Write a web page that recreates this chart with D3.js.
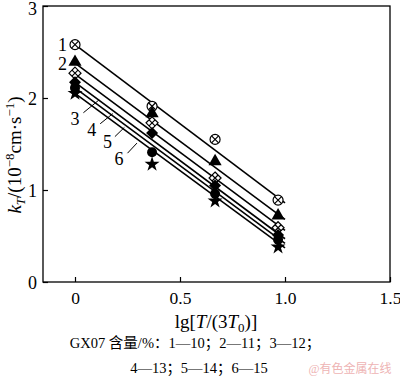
<!DOCTYPE html>
<html>
<head>
<meta charset="utf-8">
<script src="https://cdn.jsdelivr.net/npm/d3@7"></script>
<style>
  body { margin: 0; background: #fff; }
  svg text { font-family: "Liberation Serif", "Noto Sans CJK SC", serif; fill: #000; }
</style>
</head>
<body>
<div id="chart"></div>
<script>
const xValues = [0, 0.367, 0.667, 0.967];
const seriesNames = ["1", "2", "3", "4", "5", "6"];
const seriesValues = [
  [2.58, 1.91, 1.55, 0.89],
  [2.38, 1.82, 1.30, 0.71],
  [2.27, 1.73, 1.13, 0.59],
  [2.17, 1.62, 1.05, 0.51],
  [2.11, 1.41, 0.96, 0.46],
  [2.05, 1.28, 0.88, 0.38]
];
const fitStart = [2.58, 2.38, 2.26, 2.17, 2.11, 2.05];
const fitEnd = [0.86, 0.68, 0.56, 0.47, 0.42, 0.37];
const markerTypes = ["circlex", "triangle", "diamondx", "diamond", "circle", "star"];
const xTicks = [0, 0.5, 1.0, 1.5];
const xTickLabels = ["0", "0.5", "1.0", "1.5"];
const yTicks = [0, 1, 2, 3];
const yTickLabels = ["0", "1", "2", "3"];
// label anchor [x, y] in data units, leader from label toward the fitted lines
const labelPos = [[-0.06, 2.58], [-0.06, 2.37], [0, 1.78], [0.08, 1.66], [0.155, 1.52], [0.21, 1.34]];
const leaderFrom = [null, null, [0.04, 1.84], [0.12, 1.72], [0.19, 1.58], [0.25, 1.40]];
const leaderTo = [null, null, [0.115, 1.98], [0.18, 1.83], [0.235, 1.68], [0.295, 1.51]];
const captionLines = ["GX07 含量/%：1—10；2—11；3—12；", "4—13；5—14；6—15"];

const W = 400, H = 378;
const svg = d3.select("#chart").append("svg").attr("width", W).attr("height", H);

const x = d3.scaleLinear().domain([0, 1.5]).range([75, 390]);
const y = d3.scaleLinear().domain([0, 3]).range([282, 6]);
const x0 = x.invert(43);

// frame
svg.append("rect")
  .attr("x", x(x0)).attr("y", y(3))
  .attr("width", x(1.5) - x(x0)).attr("height", y(0) - y(3))
  .attr("fill", "none").attr("stroke", "#000").attr("stroke-width", 1.3);

const xAxis = svg.append("g")
  .attr("transform", `translate(0,${y(0)})`)
  .call(d3.axisBottom(x).tickValues(xTicks).tickSize(-5).tickPadding(9)
    .tickFormat((d, i) => xTickLabels[i]));
xAxis.select(".domain").remove();
xAxis.selectAll("line").attr("stroke-width", 1.2);
xAxis.selectAll("text").attr("font-size", 17.5).attr("dy", "0.72em");

const yAxis = svg.append("g")
  .attr("transform", `translate(${x(x0)},0)`)
  .call(d3.axisLeft(y).tickValues(yTicks).tickSize(-5).tickPadding(6)
    .tickFormat((d, i) => yTickLabels[i]));
yAxis.select(".domain").remove();
yAxis.selectAll("line").attr("stroke-width", 1.2);
yAxis.selectAll("text").attr("font-size", 18)
  .attr("dy", (d) => d === 3 ? "0.45em" : "0.38em");

// fitted lines
const lines = svg.append("g");
seriesNames.forEach((s, i) => {
  lines.append("line")
    .attr("x1", x(0)).attr("y1", y(fitStart[i]))
    .attr("x2", x(1.0)).attr("y2", y(fitEnd[i]))
    .attr("stroke", "#000").attr("stroke-width", 1.6);
});

// markers
const star = d3.symbol().type(d3.symbolStar).size(70);
const tri = d3.symbol().type(d3.symbolTriangle).size(75);
function drawMarker(g, type, cx, cy) {
  const m = g.append("g").attr("transform", `translate(${cx},${cy})`);
  if (type === "circlex") {
    m.append("circle").attr("r", 5).attr("fill", "#fff").attr("stroke", "#000").attr("stroke-width", 1.2);
    m.append("path").attr("d", "M-3.5,-3.5L3.5,3.5M-3.5,3.5L3.5,-3.5").attr("stroke", "#000").attr("stroke-width", 1.2);
  } else if (type === "triangle") {
    m.append("path").attr("d", tri()).attr("fill", "#000").attr("transform", "translate(0,-1)");
  } else if (type === "diamondx") {
    m.append("path").attr("d", "M0,-6L6,0L0,6L-6,0Z").attr("fill", "#fff").attr("stroke", "#000").attr("stroke-width", 1.2);
    m.append("path").attr("d", "M-3,-3L3,3M-3,3L3,-3").attr("stroke", "#000").attr("stroke-width", 1.2);
  } else if (type === "diamond") {
    m.append("path").attr("d", "M0,-6L6,0L0,6L-6,0Z").attr("fill", "#000");
  } else if (type === "circle") {
    m.append("circle").attr("r", 5).attr("fill", "#000");
  } else {
    m.append("path").attr("d", star()).attr("fill", "#000");
  }
}
const marks = svg.append("g");
seriesValues.forEach((vals, i) => {
  vals.forEach((v, j) => drawMarker(marks, markerTypes[i], x(xValues[j]), y(v)));
});

// series labels and leaders
const ann = svg.append("g");
seriesNames.forEach((s, i) => {
  ann.append("text")
    .attr("x", x(labelPos[i][0])).attr("y", y(labelPos[i][1]))
    .attr("dy", "0.35em").attr("text-anchor", "middle")
    .attr("font-size", 18).text(s);
  if (leaderFrom[i]) {
    ann.append("line")
      .attr("x1", x(leaderFrom[i][0])).attr("y1", y(leaderFrom[i][1]))
      .attr("x2", x(leaderTo[i][0])).attr("y2", y(leaderTo[i][1]))
      .attr("stroke", "#000").attr("stroke-width", 1);
  }
});

// axis titles
const xt = svg.append("text").attr("x", 216).attr("y", 328)
  .attr("text-anchor", "middle").attr("font-size", 19);
xt.append("tspan").text("lg[");
xt.append("tspan").attr("font-style", "italic").text("T");
xt.append("tspan").text("/(3");
xt.append("tspan").attr("font-style", "italic").text("T");
xt.append("tspan").attr("font-size", 13).attr("dy", 4).text("0");
xt.append("tspan").attr("dy", -4).text(")]");

const yt = svg.append("text")
  .attr("transform", "translate(14,155) rotate(-90)")
  .attr("text-anchor", "middle").attr("dy", "0.35em").attr("font-size", 19);
yt.append("tspan").attr("font-style", "italic").text("k");
yt.append("tspan").attr("font-style", "italic").attr("font-size", 13).attr("dy", 4).text("T");
yt.append("tspan").attr("dy", -4).text("/(10");
yt.append("tspan").attr("font-size", 13).attr("dy", -7).text("−8");
yt.append("tspan").attr("dy", 7).text("cm·s");
yt.append("tspan").attr("font-size", 13).attr("dy", -7).text("−1");
yt.append("tspan").attr("dy", 7).text(")");

// caption
svg.append("text").attr("x", 195).attr("y", 348).attr("text-anchor", "middle")
  .attr("font-size", 14.5).text(captionLines[0]);
svg.append("text").attr("x", 199).attr("y", 373).attr("text-anchor", "middle")
  .attr("font-size", 14.5).text(captionLines[1]);
svg.append("text").attr("x", 350).attr("y", 373).attr("text-anchor", "middle")
  .attr("font-size", 12).style("fill", "#eeb4b4").text("@有色金属在线");
</script>
</body>
</html>
